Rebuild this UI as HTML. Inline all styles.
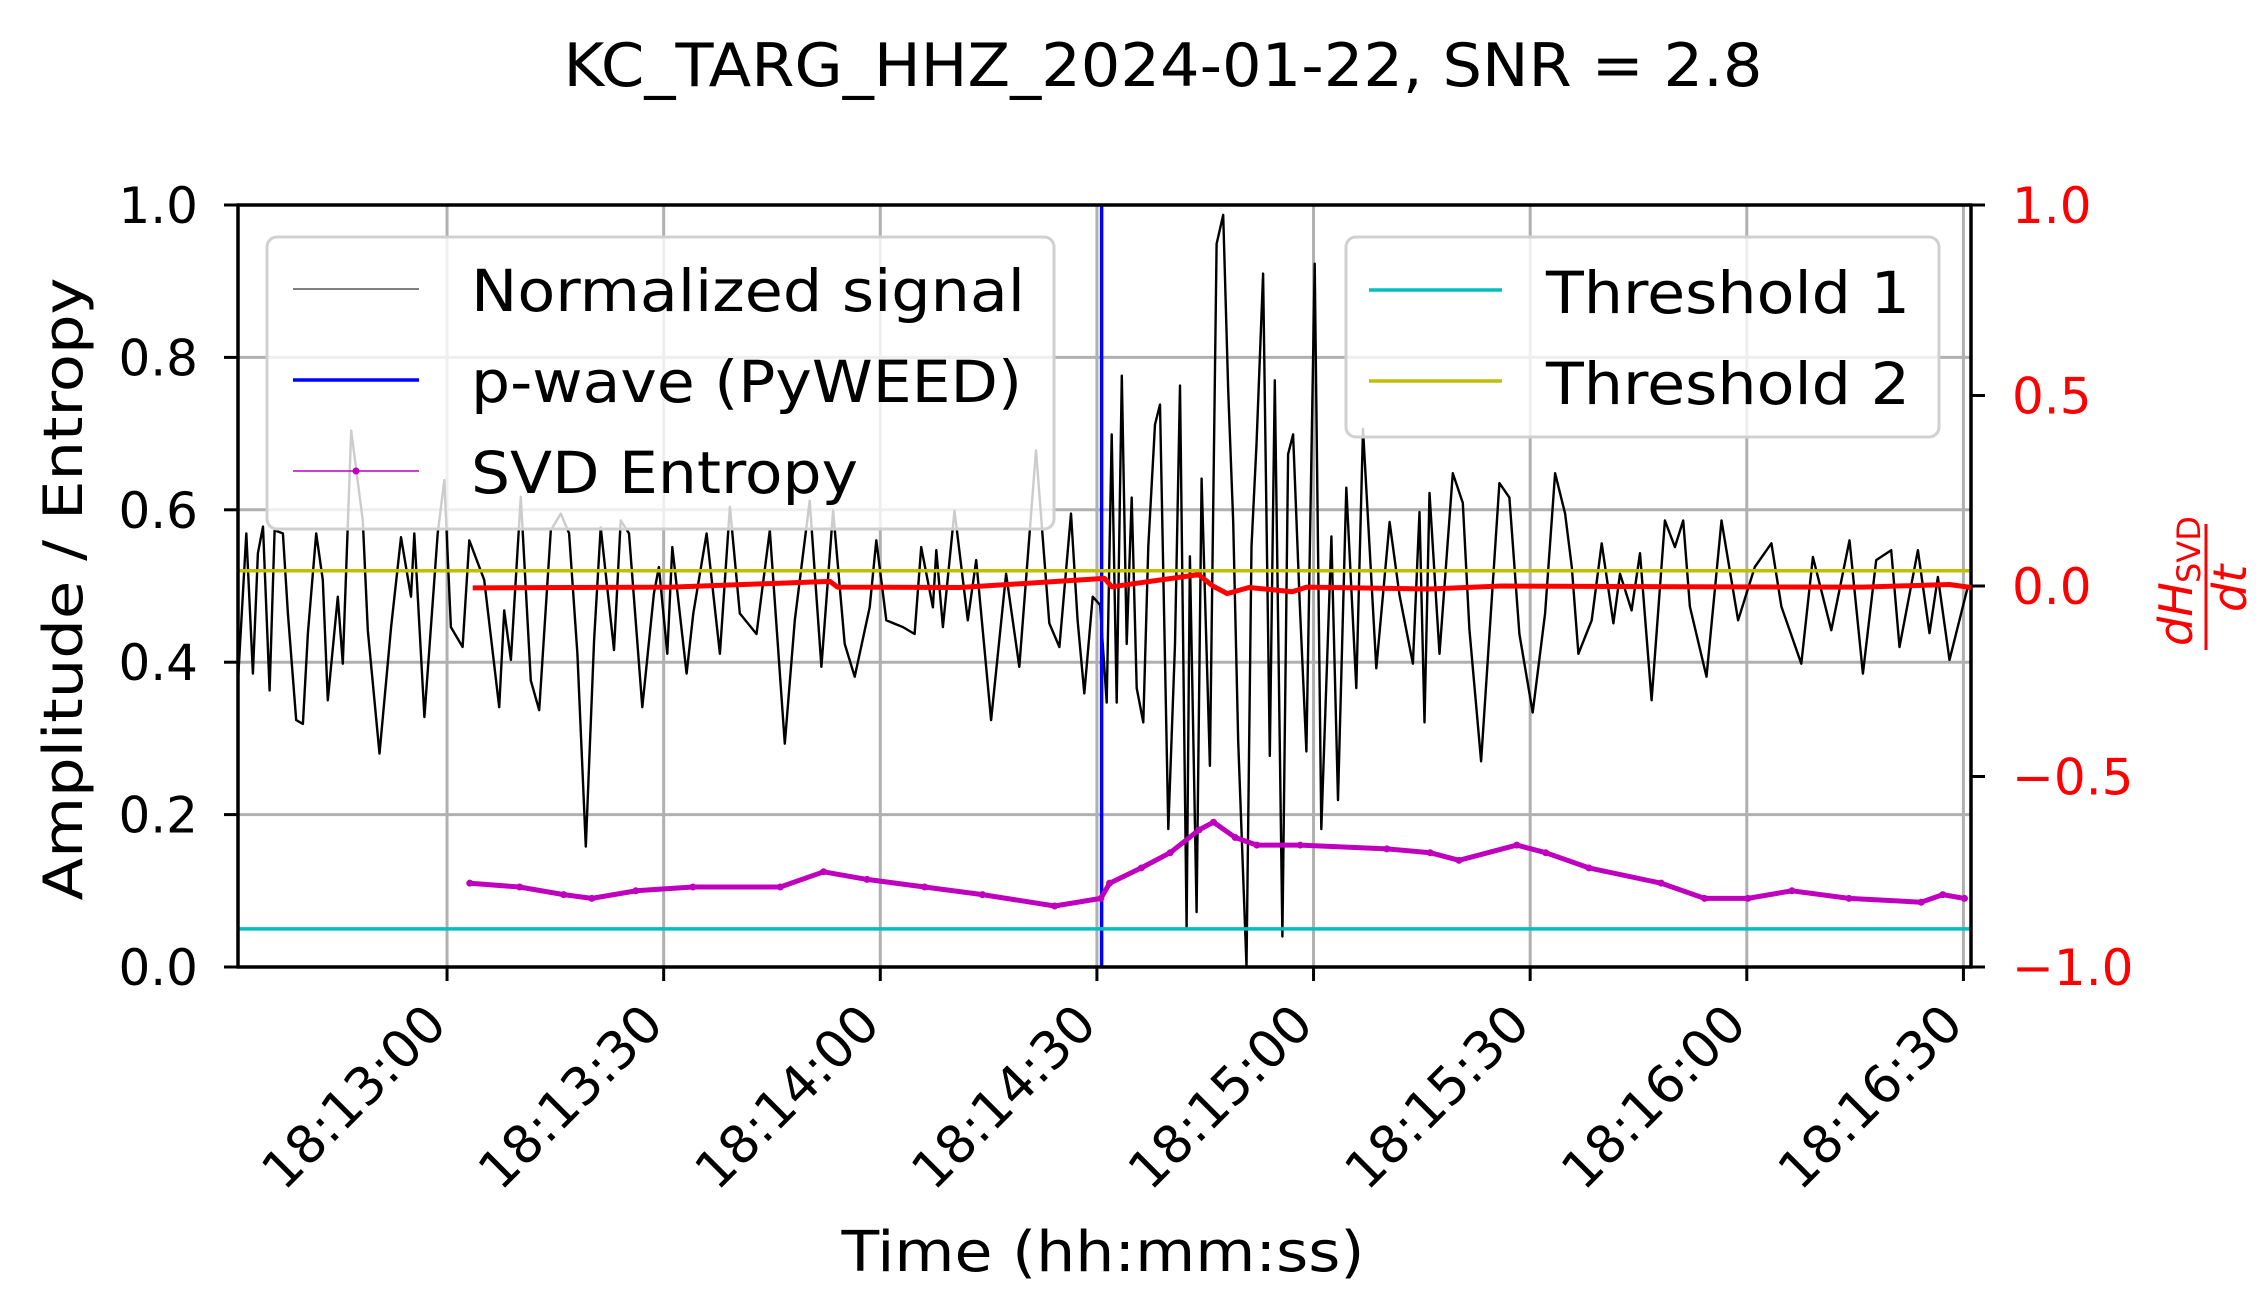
<!DOCTYPE html>
<html><head><meta charset="utf-8"><style>
html,body{margin:0;padding:0;background:#fff;}
svg{display:block;font-family:"DejaVu Sans","Liberation Sans",sans-serif;}
</style></head><body>
<svg id="chart" width="2265" height="1310" viewBox="0 0 2265 1310" xmlns="http://www.w3.org/2000/svg">
<rect x="0" y="0" width="2265" height="1310" fill="#fff"/>
<text x="1163" y="86" font-size="60" text-anchor="middle" textLength="1199" lengthAdjust="spacingAndGlyphs">KC_TARG_HHZ_2024-01-22, SNR = 2.8</text>
<g id="grid"></g>
<g id="plot"></g>
<g id="axes"></g>
<text transform="translate(82,589) rotate(-90)" font-size="54" text-anchor="middle" textLength="623" lengthAdjust="spacingAndGlyphs">Amplitude / Entropy</text>
<text x="1103" y="1271" font-size="56" text-anchor="middle" textLength="523" lengthAdjust="spacingAndGlyphs">Time (hh:mm:ss)</text>
<g transform="translate(2204,588) rotate(-90)" fill="#ff0000">
<text x="-58" y="-12" font-size="46" font-style="italic">dH</text>
<text x="5" y="-4" font-size="32">SVD</text>
<line x1="-62" y1="2" x2="64" y2="2" stroke="#ff0000" stroke-width="3"/>
<text x="-24" y="42" font-size="46" font-style="italic">dt</text>
</g>
</svg>
<script>
// ---- data ----
const tickLabels = ["18:13:00","18:13:30","18:14:00","18:14:30","18:15:00","18:15:30","18:16:00","18:16:30"];
const tickOffset = 28.95; // seconds from window start to 18:13:00
const yTicksLeft = [0.0,0.2,0.4,0.6,0.8,1.0];
const yTicksRight = [-1.0,-0.5,0.0,0.5,1.0];
const pwaveTime = 119.6;
const threshold1 = 0.05;
const threshold2 = 0.52;
const sigT = [0.0,1.15,2.07,2.76,3.46,4.38,5.07,6.22,6.91,8.06,8.99,9.68,10.83,11.75,12.44,13.82,14.52,15.67,17.28,17.97,19.59,21.2,22.58,23.96,24.42,25.81,27.65,28.57,29.49,31.11,32.03,34.1,36.18,36.87,37.79,39.17,40.55,41.71,43.32,44.7,45.85,47.0,48.16,49.31,50.23,52.07,53.0,54.15,55.99,57.6,58.29,59.45,60.14,62.13,63.06,64.9,66.74,68.12,69.5,71.81,73.65,75.73,77.11,79.18,80.8,82.41,84.02,85.41,87.48,88.4,89.78,92.09,93.7,94.62,96.24,96.7,97.62,99.23,101.07,102.23,104.3,106.37,108.2,110.52,112.36,113.75,115.36,116.28,117.2,118.36,119.39,120.31,121.0,121.69,122.39,123.08,123.77,124.46,125.38,126.07,126.99,127.69,128.84,129.76,130.45,131.37,131.83,132.75,133.45,134.6,135.52,136.44,137.13,137.82,138.52,139.66,140.36,141.05,141.97,142.89,143.58,144.64,145.43,146.12,147.04,147.96,149.11,150.03,151.42,152.34,153.49,154.87,155.8,157.64,159.48,160.86,162.71,163.63,164.32,165.01,166.39,168.24,169.62,170.54,172.16,174.69,176.07,177.46,179.3,181.02,182.4,183.79,184.71,185.63,187.47,188.86,190.47,191.39,193.0,194.16,195.77,197.61,199.0,200.15,201.07,203.37,205.45,207.75,210.06,212.36,213.74,216.5,218.1,220.65,223.18,225.03,226.87,228.95,230.1,232.64,234.25,235.41,237.02,239.55];
const sigV = [0.376,0.569,0.385,0.543,0.578,0.363,0.573,0.569,0.464,0.324,0.319,0.438,0.569,0.508,0.350,0.486,0.398,0.704,0.586,0.442,0.280,0.446,0.564,0.486,0.569,0.328,0.569,0.639,0.446,0.420,0.560,0.508,0.341,0.468,0.403,0.617,0.376,0.337,0.573,0.595,0.569,0.411,0.158,0.429,0.577,0.416,0.586,0.569,0.341,0.490,0.525,0.411,0.551,0.385,0.464,0.569,0.411,0.604,0.464,0.437,0.573,0.293,0.455,0.612,0.394,0.599,0.424,0.381,0.472,0.560,0.455,0.446,0.437,0.551,0.472,0.547,0.446,0.599,0.455,0.534,0.324,0.516,0.394,0.678,0.451,0.420,0.595,0.455,0.359,0.486,0.475,0.347,0.699,0.347,0.776,0.424,0.616,0.366,0.321,0.552,0.712,0.738,0.181,0.424,0.763,0.052,0.539,0.072,0.641,0.264,0.949,0.987,0.757,0.584,0.296,0.001,0.552,0.686,0.910,0.277,0.770,0.040,0.673,0.699,0.475,0.283,0.923,0.181,0.565,0.219,0.629,0.366,0.706,0.392,0.584,0.488,0.398,0.597,0.321,0.622,0.411,0.648,0.609,0.443,0.270,0.635,0.616,0.437,0.334,0.464,0.648,0.595,0.525,0.411,0.455,0.556,0.451,0.516,0.468,0.543,0.350,0.586,0.551,0.586,0.473,0.381,0.586,0.455,0.525,0.556,0.473,0.398,0.538,0.442,0.560,0.385,0.534,0.547,0.420,0.547,0.438,0.512,0.403,0.499];
const entT = [32.1,39.0,45.1,49.0,55.1,63.0,75.1,81.1,87.1,95.1,103.1,113.1,119.5,120.7,125.1,129.1,133.1,135.1,138.1,141.1,147.1,159.1,165.1,169.1,177.1,181.1,187.1,197.1,203.1,209.1,215.2,223.1,233.1,236.1,239.1];
const entV = [0.110,0.105,0.095,0.090,0.100,0.105,0.105,0.125,0.115,0.105,0.095,0.080,0.090,0.110,0.130,0.150,0.180,0.190,0.170,0.160,0.160,0.155,0.150,0.140,0.160,0.150,0.130,0.110,0.090,0.090,0.100,0.090,0.085,0.095,0.090];
const derT = [32.5,60,82,83,100,120,121,133,135,137,140,146,148,165,175,200,225,237,240];
const derV = [-0.005,-0.003,0.012,-0.003,-0.004,0.02,-0.002,0.03,0.0,-0.02,-0.004,-0.015,-0.003,-0.008,0.0,-0.002,-0.003,0.004,-0.004];

// ---- scales ----
const X0=238, X1=1971, Y0=967, Y1=205, TMAX=240;
function xS(t){return X0 + t/TMAX*(X1-X0);}
function yL(v){return Y0 - v*(Y0-Y1);}
function yR(r){return Y0 - (r+1)/2*(Y0-Y1);}
const NS="http://www.w3.org/2000/svg";
function mk(tag, attrs, parent){const e=document.createElementNS(NS,tag);for(const k in attrs)e.setAttribute(k,attrs[k]);parent.appendChild(e);return e;}
const svg=document.getElementById('chart');
const grid=document.getElementById('grid');
const plot=document.getElementById('plot');
const axes=document.getElementById('axes');

tickLabels.forEach((lab,i)=>{
  const x=xS(tickOffset+30*i);
  const g=mk('line',{x1:x,y1:Y1,x2:x,y2:Y0,stroke:'#b0b0b0','stroke-width':3},grid);
  
  
});
yTicksLeft.forEach(v=>{
  const y=yL(v);
  const g=mk('line',{x1:X0,y1:y,x2:X1,y2:y,stroke:'#b0b0b0','stroke-width':3},grid);
  
  
});

const sig=mk('polyline',{points:sigT.map((t,i)=>xS(t).toFixed(1)+','+yL(sigV[i]).toFixed(1)).join(' '),fill:'none',stroke:'#000','stroke-width':2.4,'stroke-linejoin':'round'},plot);



const pw=mk('line',{x1:xS(pwaveTime),y1:Y1,x2:xS(pwaveTime),y2:Y0,stroke:'#0000ff','stroke-width':3.5},plot);



const th1=mk('line',{x1:X0,y1:yL(threshold1),x2:X1,y2:yL(threshold1),stroke:'#00bfbf','stroke-width':3.5},plot);


const th2=mk('line',{x1:X0,y1:yL(threshold2),x2:X1,y2:yL(threshold2),stroke:'#bfbf00','stroke-width':3.5},plot);



const en=mk('polyline',{points:entT.map((t,i)=>xS(t).toFixed(1)+','+yL(entV[i]).toFixed(1)).join(' '),fill:'none',stroke:'#bf00bf','stroke-width':5,'stroke-linejoin':'round'},plot);


entT.forEach((t,i)=>{
  const c=mk('circle',{cx:xS(t),cy:yL(entV[i]),r:3.5,fill:'#bf00bf'},plot);
  
  
});

const lg=mk('g',{},svg);


mk('rect',{x:267,y:237,width:787,height:292,rx:10,fill:'#fff','fill-opacity':0.8,stroke:'#d0d0d0','stroke-width':3},lg);
const lgItems=[["Normalized signal","#555",1.5,554],["p-wave (PyWEED)","#0000ff",3.5,551],["SVD Entropy","#bf00bf",1.5,387]];
lgItems.forEach((it,i)=>{
  const yy=289+91*i;
  const ln=mk('line',{x1:293,y1:yy,x2:419,y2:yy,stroke:it[1],'stroke-width':it[2]},lg);
  
  
  if(i===2){const d=mk('circle',{cx:356,cy:yy,r:3.5,fill:'#bf00bf'},lg);
    
    }
  const tx=mk('text',{x:471,y:yy+22,'font-size':58,textLength:it[3],lengthAdjust:'spacingAndGlyphs'},lg);
  tx.textContent=it[0];
  
  
});

const dr=mk('polyline',{points:derT.map((t,i)=>xS(t).toFixed(1)+','+yR(derV[i]).toFixed(1)).join(' '),fill:'none',stroke:'#ff0000','stroke-width':5,'stroke-linejoin':'round'},svg);



const rg=mk('g',{},svg);


mk('rect',{x:1346,y:237,width:593,height:200,rx:10,fill:'#fff','fill-opacity':0.8,stroke:'#d0d0d0','stroke-width':3},rg);
[["Threshold 1","#00bfbf"],["Threshold 2","#bfbf00"]].forEach((it,i)=>{
  const yy=290+91*i;
  const ln=mk('line',{x1:1369,y1:yy,x2:1502,y2:yy,stroke:it[1],'stroke-width':3.5},rg);
  
  
  const tx=mk('text',{x:1546,y:yy+23,'font-size':58,textLength:364,lengthAdjust:'spacingAndGlyphs'},rg);
  tx.textContent=it[0];
  
  
});

[[X0,Y1,X0,Y0],[X1,Y1,X1,Y0],[X0,Y0,X1,Y0],[X0,Y1,X1,Y1]].forEach(s=>{
  const l=mk('line',{x1:s[0]-(s[1]===s[3]?1.5:0),y1:s[1],x2:s[2]+(s[1]===s[3]?1.5:0),y2:s[3],stroke:'#000','stroke-width':3.5},axes);
  
  
});
tickLabels.forEach((lab,i)=>{
  const x=xS(tickOffset+30*i);
  const tk=mk('line',{x1:x,y1:Y0,x2:x,y2:Y0+14,stroke:'#000','stroke-width':3},axes);
  
  
  const tx=mk('text',{transform:'translate('+(x+2)+','+(Y0+60)+') rotate(-45)','font-size':52,'text-anchor':'end'},axes);
  tx.textContent=lab;
  
  
});
yTicksLeft.forEach(v=>{
  const y=yL(v);
  const tk=mk('line',{x1:X0-14,y1:y,x2:X0,y2:y,stroke:'#000','stroke-width':3},axes);
  
  
  const tx=mk('text',{x:198,y:y+18,'font-size':50,'text-anchor':'end'},axes);
  tx.textContent=v.toFixed(1);
  
  
});
yTicksRight.forEach(r=>{
  const y=yR(r);
  const tk=mk('line',{x1:X1,y1:y,x2:X1+14,y2:y,stroke:'#000','stroke-width':3},axes);
  
  
  const tx=mk('text',{x:2012,y:y+18,'font-size':50,fill:'#ff0000'},axes);
  tx.textContent=(r<0?'\u2212':'')+Math.abs(r).toFixed(1);
  
  
});
</script>
</body></html>
